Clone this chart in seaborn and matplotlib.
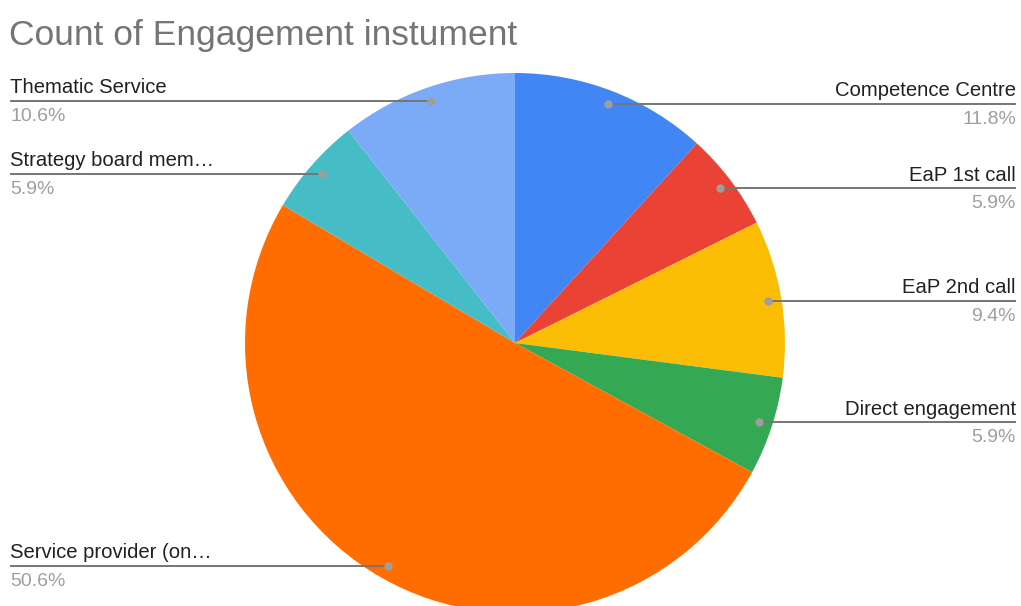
import numpy as np
import matplotlib
matplotlib.use("Agg")
import matplotlib.pyplot as plt
import seaborn as sns

# Engagement instrument counts (clockwise from 12 o'clock)
categories = ["Competence Centre", "EaP 1st call", "EaP 2nd call", "Direct engagement",
              "Service provider (on…", "Strategy board mem…", "Thematic Service"]
counts = [10, 5, 8, 5, 43, 5, 9]
colors = ["#4285F4", "#EA4335", "#FBBC04", "#34A853", "#FF6D01", "#46BDC6", "#7BAAF7"]

sns.set_theme(style="white")
plt.rcParams["font.family"] = ["Liberation Sans", "DejaVu Sans"]

W, H = 1021, 606
fig = plt.figure(figsize=(W / 100, H / 100), dpi=100)
ax = fig.add_axes([0, 0, 1, 1])

cx, cy, r = 515, H - 343, 270
wedges, _ = ax.pie(counts, colors=colors, startangle=90, counterclock=False,
                   radius=r, center=(cx, cy), frame=True,
                   wedgeprops=dict(linewidth=0))
ax.set_xlim(0, W)
ax.set_ylim(0, H)
ax.set_aspect("equal")
ax.axis("off")

total = sum(counts)
for w, lab, c in zip(wedges, categories, counts):
    mid = np.deg2rad((w.theta1 + w.theta2) / 2)
    dx, dy = cx + 0.95 * r * np.cos(mid), cy + 0.95 * r * np.sin(mid)
    right = np.cos(mid) > 0
    xe = 1016 if right else 10
    ha = "right" if right else "left"
    ax.plot([dx, xe], [dy, dy], color="#757575", lw=1.4, solid_capstyle="butt", zorder=3)
    ax.plot(dx, dy, "o", color="#9e9e9e", ms=6, mec="none", zorder=4)
    ax.text(xe, dy + 7.5, lab, ha=ha, va="baseline", fontsize=14.6, color="#212121")
    ax.text(xe, dy - 7, f"{100 * c / total:.1f}%", ha=ha, va="top",
            fontsize=14, color="#9e9e9e")

ax.text(9, H - 45, "Count of Engagement instument", ha="left", va="baseline",
        fontsize=25.5, color="#757575")

fig.savefig("out.png", dpi=100, facecolor="white")
